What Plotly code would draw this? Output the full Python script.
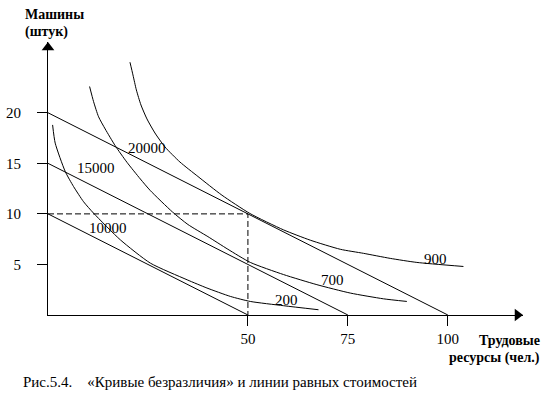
import plotly.graph_objects as go

# ---- data ----
budget_y_intercepts = [10, 15, 20]
budget_x_intercepts = [50, 75, 100]

c1_x = [1.15, 1.8, 4.3, 6.4, 8.9, 11.4, 18.1, 25.6, 34.8, 39.75, 45.6, 50.6, 58.9, 67.65]
c1_y = [18.8, 17.0, 14.2, 12.7, 11.2, 10.07, 7.43, 5.13, 3.48, 2.67, 1.84, 1.34, 0.92, 0.52]

c2_x = [10.4, 11.4, 12.65, 14.3, 16.8, 19.75, 23.1, 25.6, 31.1, 35.0, 40.0, 45.0, 50.6, 58.9, 67.25, 75.6, 83.9, 89.75]
c2_y = [22.6, 21.1, 19.6, 18.4, 16.75, 15.1, 13.45, 12.3, 10.2, 8.95, 7.75, 6.5, 5.2, 4.0, 3.0, 2.17, 1.6, 1.34]

c3_x = [20.5, 21.25, 22.1, 23.25, 24.75, 26.75, 29.25, 33.0, 37.5, 43.5, 50.5, 58.9, 65.6, 73.1, 78.9, 85.6, 92.25, 103.9]
c3_y = [25.0, 23.74, 22.26, 20.77, 19.39, 18.0, 16.62, 15.13, 13.7, 11.85, 10.04, 8.42, 7.4, 6.5, 6.1, 5.6, 5.2, 4.8]

optimum_x = 50
optimum_y = 10

label_text = ["10000", "15000", "20000", "200", "700", "900"]
label_x = [15.0, 12.0, 24.8, 59.6, 71.2, 96.9]
label_y = [8.58, 14.5, 16.5, 1.48, 3.46, 5.5]

x_ticks = [50, 75, 100]
y_ticks = [5, 10, 15, 20]

# ---- layout constants ----
W, H = 555, 398
ML, MR, MT, MB = 48, 32, 42, 83
XMAX, YMAX = 118.8, 27.0
pw, ph = W - ML - MR, H - MT - MB
px_per_x = pw / XMAX
px_per_y = ph / YMAX

SERIF = "Liberation Serif"

def paper(px, py):
    return (px - ML) / pw, (H - MB - py) / ph

fig = go.Figure()
line = dict(color="black", width=1)

for y0, x0 in zip(budget_y_intercepts, budget_x_intercepts):
    fig.add_trace(go.Scatter(x=[0, x0], y=[y0, 0], mode="lines", line=line, hoverinfo="skip"))

fig.add_trace(go.Scatter(x=[0, optimum_x, optimum_x], y=[optimum_y, optimum_y, 0], mode="lines",
                         line=dict(color="black", width=1, dash="6px,3px"), hoverinfo="skip"))

for cx, cy in [(c1_x, c1_y), (c2_x, c2_y), (c3_x, c3_y)]:
    fig.add_trace(go.Scatter(x=cx, y=cy, mode="lines",
                             line=dict(color="black", width=1, shape="spline", smoothing=0.6),
                             hoverinfo="skip"))

# axis arrows
fig.add_trace(go.Scatter(x=[0], y=[YMAX - 5.5 / px_per_y], mode="markers", cliponaxis=False,
                         marker=dict(symbol="triangle-up", size=11, color="black"), hoverinfo="skip"))
fig.add_trace(go.Scatter(x=[XMAX - 5.5 / px_per_x], y=[0], mode="markers", cliponaxis=False,
                         marker=dict(symbol="triangle-right", size=11, color="black"), hoverinfo="skip"))

for t, x, y in zip(label_text, label_x, label_y):
    fig.add_annotation(x=x, y=y, text=t, showarrow=False, font=dict(family=SERIF, size=15, color="black"))

def add_text(px, py, text, size, bold=False, xanchor="left"):
    x, y = paper(px, py)
    fig.add_annotation(x=x, y=y, xref="paper", yref="paper", text=("<b>%s</b>" % text) if bold else text,
                       showarrow=False, xanchor=xanchor, yanchor="middle",
                       font=dict(family=SERIF, size=size, color="black"))

add_text(23, 15, "Машины", 14, bold=True)
add_text(23, 32, "(штук)", 14, bold=True)
add_text(542, 340, "Трудовые", 14, bold=True, xanchor="right")
add_text(542, 358, "ресурсы (чел.)", 14, bold=True, xanchor="right")
add_text(21, 382, "Рис.5.4.\u00a0\u00a0\u00a0\u00a0«Кривые безразличия» и линии равных стоимостей", 15)

fig.update_layout(
    width=W, height=H, margin=dict(l=ML, r=MR, t=MT, b=MB, autoexpand=False),
    paper_bgcolor="white", plot_bgcolor="white", showlegend=False,
    font=dict(family=SERIF, color="black"),
    xaxis=dict(range=[0, XMAX], showgrid=False, zeroline=False, showline=True, linecolor="black", linewidth=1,
               automargin=False,
               tickmode="array", tickvals=x_ticks, ticktext=[str(v) for v in x_ticks],
               ticks="outside", ticklen=10, tickcolor="black", tickwidth=1,
               tickfont=dict(family=SERIF, size=15, color="black")),
    yaxis=dict(range=[0, YMAX], showgrid=False, zeroline=False, showline=True, linecolor="black", linewidth=1,
               automargin=False,
               tickmode="array", tickvals=y_ticks, ticktext=[str(v) for v in y_ticks],
               ticks="outside", ticklen=10, tickcolor="black", tickwidth=1, ticklabelstandoff=13,
               tickfont=dict(family=SERIF, size=15, color="black")),
)

fig.write_html("out.html")
